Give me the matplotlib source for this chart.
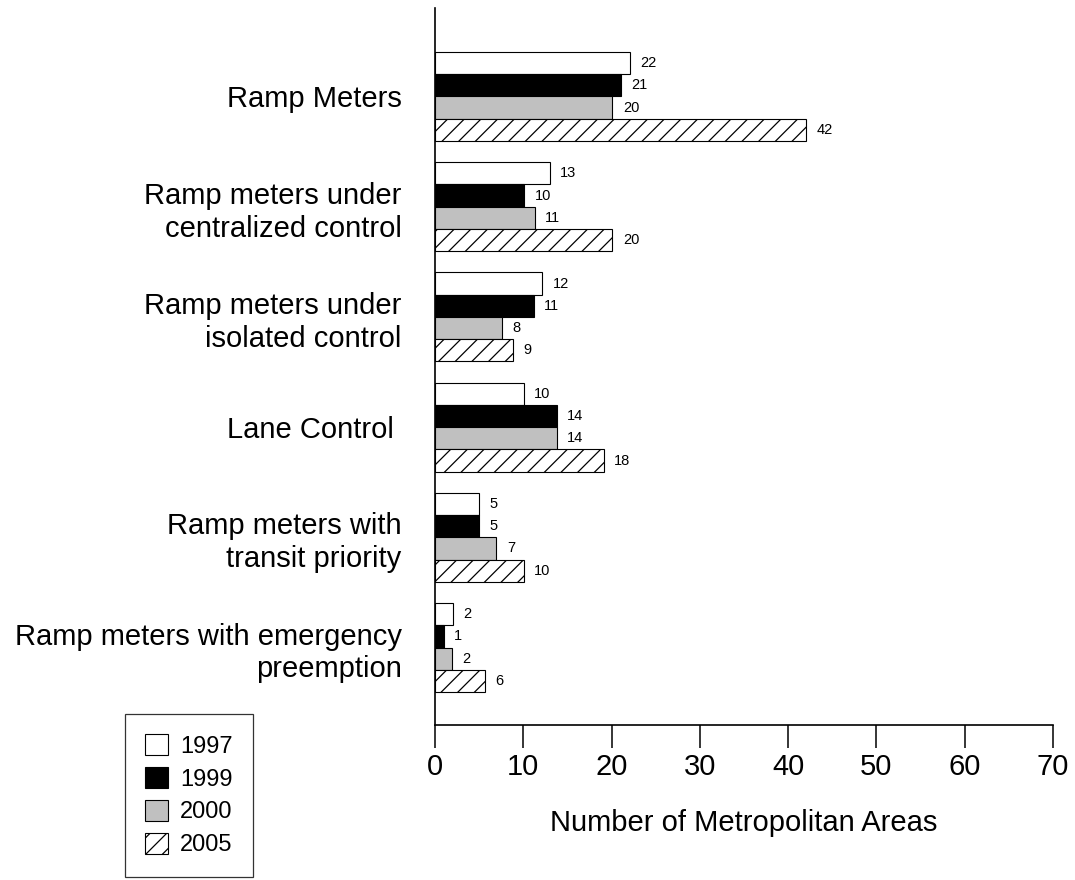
import matplotlib
matplotlib.use("Agg")
import matplotlib.pyplot as plt
import numpy as np

plt.rcParams['font.family'] = ['Liberation Sans', 'DejaVu Sans']
plt.rcParams['hatch.linewidth'] = 0.9

categories = [
    'Ramp Meters',
    'Ramp meters under\ncentralized control',
    'Ramp meters under\nisolated control',
    'Lane Control ',
    'Ramp meters with\ntransit priority',
    'Ramp meters with emergency\npreemption',
]
years = ['1997', '1999', '2000', '2005']

# bar lengths as drawn in the picture
len_1997 = [22.1, 13.0, 12.15, 10.05, 5.0, 2.0]
len_1999 = [21.1, 10.1, 11.2, 13.8, 5.0, 1.0]
len_2000 = [20.1, 11.3, 7.55, 13.8, 6.95, 1.9]
len_2005 = [42.0, 20.1, 8.8, 19.1, 10.05, 5.7]

# numbers printed next to the bars
lab_1997 = [22, 13, 12, 10, 5, 2]
lab_1999 = [21, 10, 11, 14, 5, 1]
lab_2000 = [20, 11, 8, 14, 7, 2]
lab_2005 = [42, 20, 9, 18, 10, 6]

lengths = [len_1997, len_1999, len_2000, len_2005]
labels = [lab_1997, lab_1999, lab_2000, lab_2005]
fills = ['white', 'black', '#c0c0c0', 'white']
hatches = [None, None, None, '//']

fig = plt.figure(figsize=(10.75, 8.8), dpi=100)
ax = fig.add_axes([435 / 1075, 1 - 725 / 880, 618 / 1075, 717 / 880])

y = np.arange(len(categories))
h = 0.202
for i, yr in enumerate(years):
    pos = y - 1.5 * h + i * h
    bars = ax.barh(pos, lengths[i], height=h, color=fills[i], edgecolor='black',
                   linewidth=0.8, hatch=hatches[i], label=yr)
    for b, txt in zip(bars, labels[i]):
        ax.annotate(str(txt), (b.get_width(), b.get_y() + b.get_height() / 2),
                    xytext=(7.5, 0), textcoords='offset points',
                    ha='left', va='center', fontsize=10.5)

ax.set_xlim(0, 70)
ax.set_ylim(5.703, -0.803)
ax.set_xticks(range(0, 71, 10))
ax.set_yticks(y)
ax.set_yticklabels(categories, fontsize=21, linespacing=1.22)
ax.tick_params(axis='y', length=0, pad=24)
ax.tick_params(axis='x', direction='out', length=16.5, width=1.1, labelsize=21, pad=4)
ax.set_xlabel('Number of Metropolitan Areas', fontsize=21, labelpad=20)

for s in ['top', 'right']:
    ax.spines[s].set_visible(False)
for s in ['left', 'bottom']:
    ax.spines[s].set_linewidth(1.2)

leg = fig.legend(loc='upper left', bbox_to_anchor=(125 / 1075, 1 - 714 / 880),
                 borderaxespad=0, fontsize=17, frameon=True, fancybox=False,
                 edgecolor='black', handlelength=0.98, handleheight=0.98,
                 handletextpad=0.5, labelspacing=0.4, borderpad=0.85)
leg.get_frame().set_linewidth(0.9)

fig.savefig('out.png', dpi=100)
